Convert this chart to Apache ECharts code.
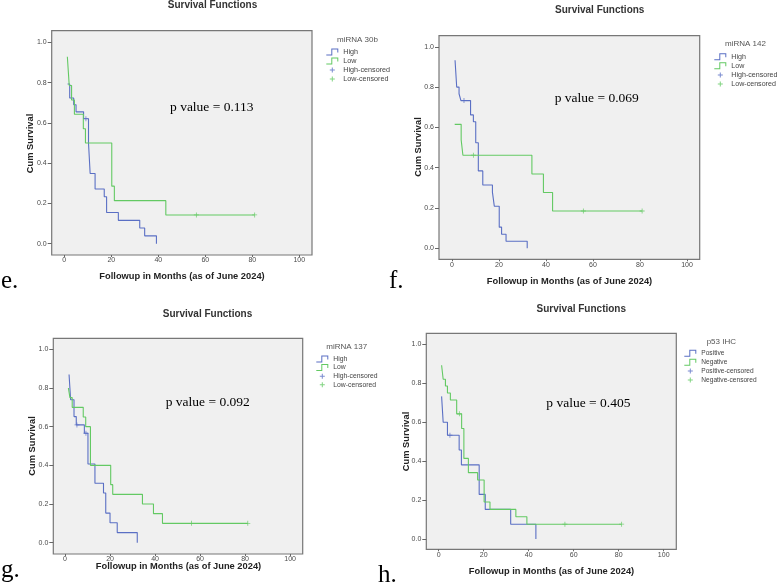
<!DOCTYPE html>
<html><head><meta charset="utf-8">
<script src="https://cdn.jsdelivr.net/npm/echarts@6/dist/echarts.min.js"></script>
<style>html,body{margin:0;padding:0;background:#fff}#c{width:778px;height:586px}</style>
</head><body><div id="c"></div>
<script>
// ---------- data ----------
const xTicks = [0, 20, 40, 60, 80, 100];
const yTicks = [0, 0.2, 0.4, 0.6, 0.8, 1.0];
const panelLetters = ['e.', 'f.', 'g.', 'h.'];
const pValues = ['0.113', '0.069', '0.092', '0.405'];
const legendTitles = ['miRNA 30b', 'miRNA 142', 'miRNA 137', 'p53 IHC'];
const groupNames = [['High', 'Low'], ['High', 'Low'], ['High', 'Low'], ['Positive', 'Negative']];

// panel e : miRNA 30b
const eHighT = [1.4, 2.3, 4.0, 5.0, 8.2, 10.3, 11.0, 13.1, 17.0, 18.0, 23.0, 32.1, 34.2, 39.2];
const eHighS = [0.793, 0.724, 0.690, 0.655, 0.621, 0.500, 0.349, 0.272, 0.233, 0.155, 0.116, 0.078, 0.039, 0.0];
const eHighCensT = [9.2];
const eHighCensS = [0.621];
const eLowT = [1.3, 2.1, 3.1, 4.3, 8.1, 9.0, 20.2, 21.3, 43.2, 81.0];
const eLowS = [0.929, 0.786, 0.714, 0.643, 0.571, 0.500, 0.286, 0.214, 0.143, 0.143];
const eLowCensT = [56.2, 81.0];
const eLowCensS = [0.143, 0.143];

// panel f : miRNA 142
const fHighT = [1.3, 2.0, 3.0, 3.8, 7.9, 9.1, 10.1, 11.2, 13.1, 17.2, 18.0, 20.1, 21.1, 23.0, 32.0];
const fHighS = [0.933, 0.800, 0.767, 0.733, 0.662, 0.628, 0.524, 0.384, 0.314, 0.279, 0.209, 0.105, 0.070, 0.035, 0.0];
const fHighCensT = [5.1];
const fHighCensS = [0.733];
const fLowT = [1.15, 3.9, 4.65, 34.0, 38.9, 42.8, 80.9];
const fLowS = [0.615, 0.538, 0.462, 0.369, 0.277, 0.185, 0.185];
const fLowCensT = [9.1, 55.9, 80.9];
const fLowCensS = [0.462, 0.185, 0.185];

// panel g : miRNA 137
const gHighT = [1.8, 2.5, 4.0, 5.0, 8.6, 10.2, 13.3, 17.1, 18.1, 20.0, 23.2, 32.1];
const gHighS = [0.870, 0.739, 0.652, 0.609, 0.566, 0.407, 0.307, 0.257, 0.153, 0.103, 0.052, 0.0];
const gHighCensT = [5.3, 9.3];
const gHighCensS = [0.609, 0.566];
const gLowT = [1.5, 2.2, 3.2, 8.1, 9.2, 11.3, 20.3, 21.2, 34.4, 39.3, 43.3, 81.2];
const gLowS = [0.80, 0.75, 0.70, 0.65, 0.60, 0.40, 0.30, 0.25, 0.20, 0.15, 0.10, 0.10];
const gLowCensT = [56.2, 81.2];
const gLowCensS = [0.10, 0.10];

// panel h : p53 IHC
const hPosT = [1.3, 2.0, 3.9, 9.1, 10.1, 18.0, 20.7, 32.0, 43.2];
const hPosS = [0.733, 0.600, 0.533, 0.457, 0.381, 0.229, 0.152, 0.076, 0.0];
const hPosCensT = [5.0];
const hPosCensS = [0.533];
const hNegT = [1.3, 2.0, 3.0, 3.9, 5.2, 8.0, 10.2, 11.2, 13.2, 17.3, 20.2, 22.8, 34.3, 39.2, 81.3];
const hNegS = [0.893, 0.821, 0.786, 0.750, 0.714, 0.643, 0.568, 0.414, 0.341, 0.303, 0.190, 0.152, 0.114, 0.076, 0.076];
const hNegCensT = [9.2, 56.1, 81.3];
const hNegCensS = [0.643, 0.076, 0.076];

const panelCurves = [
  [[eHighT, eHighS, eHighCensT, eHighCensS], [eLowT, eLowS, eLowCensT, eLowCensS]],
  [[fHighT, fHighS, fHighCensT, fHighCensS], [fLowT, fLowS, fLowCensT, fLowCensS]],
  [[gHighT, gHighS, gHighCensT, gHighCensS], [gLowT, gLowS, gLowCensT, gLowCensS]],
  [[hPosT, hPosS, hPosCensT, hPosCensS], [hNegT, hNegS, hNegCensT, hNegCensS]]
];

// ---------- layout / style ----------
const layouts = [
  {grid:[51.7,30.7,260.3,224.3], x:[-5.36,105.4], y:[-0.056,1.058], title:[212.5,5], p:[170,107], xName:[182,276], yName:[30.7,143.5], legTitle:[357.5,40], leg:[326.3,48.5,2], legFont:7.2, letter:[1,281]},
  {grid:[439,35.7,260.7,223.6], x:[-5.53,105.4], y:[-0.0546,1.055], title:[599.7,10], p:[554.7,98], xName:[569.5,281], yName:[418.7,147], legTitle:[745.5,43.3], leg:[714.3,53.2,2.1], legFont:7.1, letter:[389,281]},
  {grid:[53.3,338.3,249.4,215.7], x:[-5.2,105.6], y:[-0.0586,1.057], title:[207.5,314], p:[165.7,402], xName:[178.5,566], yName:[32.3,446], legTitle:[346.7,346.7], leg:[316.3,355.5,1.6], legFont:6.8, letter:[1,570]},
  {grid:[426.3,333.3,250,216], x:[-5.5,105.6], y:[-0.053,1.057], title:[581.3,309], p:[546.3,403], xName:[551.5,571], yName:[406.3,441.5], legTitle:[721.3,341.7], leg:[684.3,349.8,1.9], legFont:6.6, letter:[378,575]}
];
const colors = ['#5a6fc4', '#63c963'];
const SANS = 'Liberation Sans, Arial, sans-serif';
const SERIF = 'Liberation Serif, Times New Roman, serif';
const stepIcon = 'path://M0,6 H5 V0 H12 V4 H11 V1 H6 V7 H0 Z';
const plusIcon = 'path://M0,0h0.01v0.01h-0.01z M11.99,6.99h0.01v0.01h-0.01z M5.5,1 H6.5 V3 H8.5 V4 H6.5 V6 H5.5 V4 H3.5 V3 H5.5 Z';
const plusSymbol = 'path://M2.5,0 H3.5 V2.5 H6 V3.5 H3.5 V6 H2.5 V3.5 H0 V2.5 H2.5 Z';

const grids = [], xAxes = [], yAxes = [], series = [], legends = [], graphics = [];
layouts.forEach((L, i) => {
  grids.push({left:L.grid[0], top:L.grid[1], width:L.grid[2], height:L.grid[3], show:true,
    backgroundColor:'#f0f0f0', borderColor:'#777777', borderWidth:1.2, containLabel:false, outerBoundsMode:'none'});
  xAxes.push({gridIndex:i, type:'value', min:L.x[0], max:L.x[1], position:'bottom',
    axisLine:{show:false, onZero:false}, splitLine:{show:false},
    axisTick:{show:true, length:2, customValues:xTicks, lineStyle:{color:'#666'}},
    axisLabel:{customValues:xTicks, fontSize:7, color:'#4a4a4a', margin:2, fontFamily:SANS}});
  yAxes.push({gridIndex:i, type:'value', min:L.y[0], max:L.y[1], position:'left',
    axisLine:{show:false, onZero:false}, splitLine:{show:false},
    axisTick:{show:true, length:4, customValues:yTicks, lineStyle:{color:'#666'}},
    axisLabel:{customValues:yTicks, fontSize:7, color:'#4a4a4a', margin:5, fontFamily:SANS,
      formatter: v => v.toFixed(1)}});
  const names = groupNames[i];
  panelCurves[i].forEach((c, g) => {
    series.push({type:'line', name:names[g], xAxisIndex:i, yAxisIndex:i, step:'end',
      showSymbol:false, symbol:'none', color:colors[g], lineStyle:{width:1.1, color:colors[g]},
      data:c[0].map((t, k) => [t, c[1][k]]), z:2 + g});
  });
  panelCurves[i].forEach((c, g) => {
    series.push({type:'scatter', name:names[g] + '-censored', xAxisIndex:i, yAxisIndex:i,
      symbol:plusSymbol, symbolSize:5, color:colors[g], itemStyle:{color:colors[g]},
      data:c[2].map((t, k) => [t, c[3][k]]), z:5});
  });
  legends.push({orient:'vertical', left:L.leg[0], top:L.leg[1], padding:0, itemGap:L.leg[2],
    itemWidth:12, itemHeight:7, selectedMode:false, symbolKeepAspect:true,
    textStyle:{fontSize:L.legFont, color:'#444', fontFamily:SANS, lineHeight:7},
    data:[{name:names[0], icon:stepIcon}, {name:names[1], icon:stepIcon},
          {name:names[0] + '-censored', icon:plusIcon}, {name:names[1] + '-censored', icon:plusIcon}]});
  graphics.push({type:'text', x:L.title[0], y:L.title[1], silent:true,
    style:{text:'Survival Functions', fontSize:10, fontWeight:'bold', fontFamily:SANS, fill:'#333', align:'center', verticalAlign:'middle'}});
  graphics.push({type:'text', x:L.legTitle[0], y:L.legTitle[1], silent:true,
    style:{text:legendTitles[i], fontSize:8, fontFamily:SANS, fill:'#555', align:'center', verticalAlign:'middle'}});
  graphics.push({type:'text', x:L.p[0], y:L.p[1], silent:true,
    style:{text:'p value = ' + pValues[i], fontSize:13.5, fontFamily:SERIF, fill:'#000', align:'left', verticalAlign:'middle'}});
  graphics.push({type:'text', x:L.xName[0], y:L.xName[1], silent:true,
    style:{text:'Followup in Months (as of June 2024)', fontSize:9.3, fontWeight:'bold', fontFamily:SANS, fill:'#222', align:'center', verticalAlign:'middle'}});
  graphics.push({type:'text', x:L.yName[0], y:L.yName[1], rotation:Math.PI / 2, silent:true,
    style:{text:'Cum Survival', fontSize:9.3, fontWeight:'bold', fontFamily:SANS, fill:'#222', align:'center', verticalAlign:'middle'}});
  graphics.push({type:'text', x:L.letter[0], y:L.letter[1], silent:true,
    style:{text:panelLetters[i], fontSize:25, fontFamily:SERIF, fill:'#000', align:'left', verticalAlign:'middle'}});
});

const chart = echarts.init(document.getElementById('c'), null, {renderer:'canvas'});
chart.setOption({
  animation:false,
  backgroundColor:'#ffffff',
  grid:grids, xAxis:xAxes, yAxis:yAxes, legend:legends, series:series, graphic:graphics
});
</script></body></html>
